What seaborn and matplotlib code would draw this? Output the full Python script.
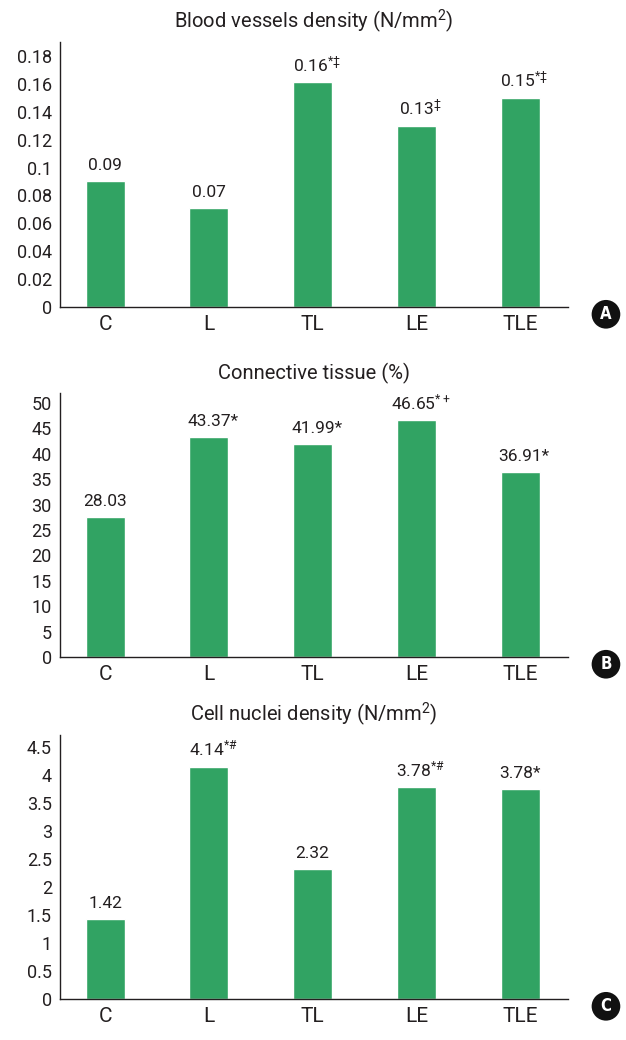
import matplotlib
matplotlib.use("Agg")
import matplotlib.pyplot as plt
import seaborn as sns
import pandas as pd

groups = ["C", "L", "TL", "LE", "TLE"]

vessels = [0.09, 0.071, 0.161, 0.13, 0.15]
vessels_labels = ["0.09", "0.07", "0.16$^{*‡}$", "0.13$^{‡}$", "0.15$^{*‡}$"]
vessels_ticks = [0, 0.02, 0.04, 0.06, 0.08, 0.1, 0.12, 0.14, 0.16, 0.18]

connective = [27.5, 43.37, 41.99, 46.65, 36.5]
connective_labels = ["28.03", "43.37*", "41.99*", "46.65$^{*+}$", "36.91*"]
connective_ticks = [0, 5, 10, 15, 20, 25, 30, 35, 40, 45, 50]

nuclei = [1.42, 4.14, 2.32, 3.78, 3.75]
nuclei_labels = ["1.42", "4.14$^{*\\#}$", "2.32", "3.78$^{*\\#}$", "3.78*"]
nuclei_ticks = [0, 0.5, 1, 1.5, 2, 2.5, 3, 3.5, 4, 4.5]

sns.set_style("white")
plt.rcParams['font.family'] = ['Roboto', 'DejaVu Sans']
plt.rcParams['font.stretch'] = 'condensed'
plt.rcParams['mathtext.fontset'] = 'custom'
plt.rcParams['mathtext.rm'] = 'Roboto'
plt.rcParams['mathtext.it'] = 'Roboto'
plt.rcParams['mathtext.default'] = 'regular'
plt.rcParams['text.color'] = '#231f20'
plt.rcParams['xtick.color'] = '#231f20'
plt.rcParams['ytick.color'] = '#231f20'

green = "#31a363"

fig = plt.figure(figsize=(6.26, 10.40), dpi=100)

panels = [
    ("Blood vessels density (N/mm$^2$)", vessels, vessels_labels, vessels_ticks, 0.19, "A",
     [0.096, 0.7048, 0.811, 0.2548]),
    ("Connective tissue (%)", connective, connective_labels, connective_ticks, 52, "B",
     [0.096, 0.3683, 0.811, 0.2539]),
    ("Cell nuclei density (N/mm$^2$)", nuclei, nuclei_labels, nuclei_ticks, 4.71, "C",
     [0.096, 0.0394, 0.811, 0.2539]),
]

for title, vals, labels, ticks, ymax, letter, pos in panels:
    ax = fig.add_axes(pos)
    df = pd.DataFrame({"group": groups, "value": vals})
    sns.barplot(data=df, x="group", y="value", color=green, saturation=1,
                width=0.376, ax=ax)
    ax.set_xlim(-0.434, 4.46)
    ax.set_ylim(0, ymax)
    ax.set_yticks(ticks)
    ax.set_yticklabels([f"{t:g}" for t in ticks], fontsize=13)
    ax.tick_params(axis="y", direction="in", length=7, width=1, pad=6)
    ax.tick_params(axis="x", length=0, labelsize=15, pad=6)
    ax.set_xlabel("")
    ax.set_ylabel("")
    for s in ["top", "right"]:
        ax.spines[s].set_visible(False)
    for s in ["left", "bottom"]:
        ax.spines[s].set_color("#231f20")
        ax.spines[s].set_linewidth(1)
    ax.set_title(title, fontsize=14.5, pad=10)
    for i, (v, lab) in enumerate(zip(vals, labels)):
        ax.annotate(lab, (i, v), xytext=(3 if len(lab) > 5 else 0, 8),
                    textcoords="offset points", ha="center", va="baseline",
                    fontsize=12.5)
    # panel letter
    fig.text(0.968, pos[1] - 0.007, letter, ha="center", va="center",
             fontsize=12, fontweight="bold", color="white", family="DejaVu Sans",
             bbox=dict(boxstyle="circle,pad=0.32", fc="#111111", ec="none"))

fig.savefig("out.png", dpi=100)
